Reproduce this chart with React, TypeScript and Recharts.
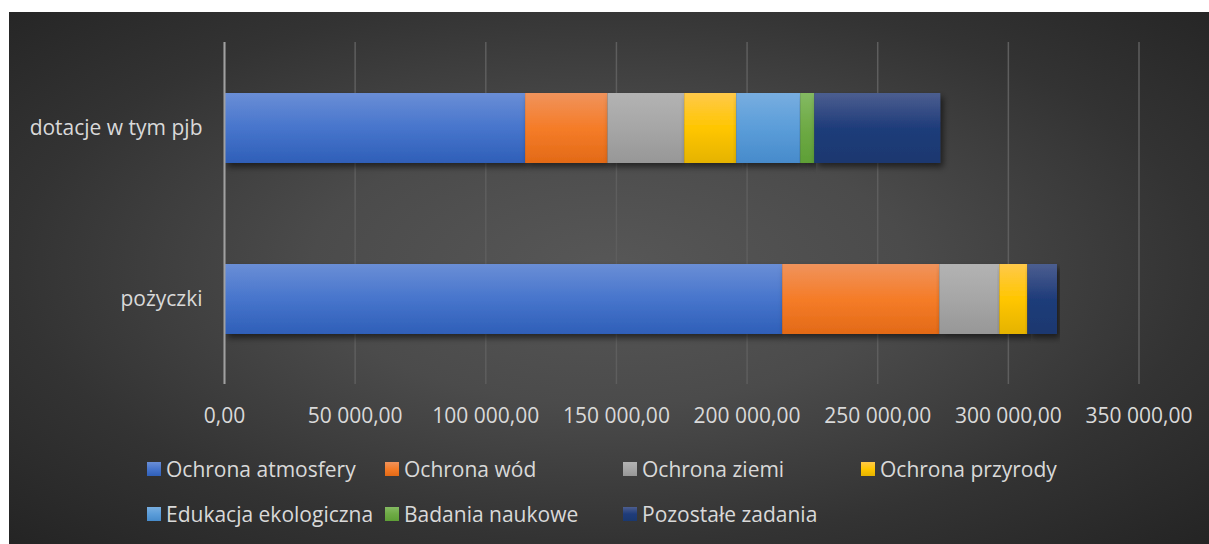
import { Bar, BarChart, CartesianGrid, XAxis, YAxis } from "recharts";

const categories = ["dotacje w tym pjb", "pożyczki"];

const seriesNames = [
	"Ochrona atmosfery",
	"Ochrona wód",
	"Ochrona ziemi",
	"Ochrona przyrody",
	"Edukacja ekologiczna",
	"Badania naukowe",
	"Pozostałe zadania",
];

// values per category, same order as `categories`
const ochronaAtmosfery = [115050, 213440];
const ochronaWod = [31510, 60110];
const ochronaZiemi = [29370, 22970];
const ochronaPrzyrody = [19910, 10720];
const edukacjaEkologiczna = [24500, 0];
const badaniaNaukowe = [5360, 0];
const pozostaleZadania = [48240, 11370];

const xTicks = [0, 50000, 100000, 150000, 200000, 250000, 300000, 350000];

const seriesValues = [
	ochronaAtmosfery,
	ochronaWod,
	ochronaZiemi,
	ochronaPrzyrody,
	edukacjaEkologiczna,
	badaniaNaukowe,
	pozostaleZadania,
];

// [top, middle, bottom] shades for each series
const shades = [
	["#6a8ed6", "#4775cc", "#2f5fb8"],
	["#f0935c", "#f57c28", "#e36a17"],
	["#b3b3b3", "#a6a6a6", "#979797"],
	["#ffc94a", "#ffc600", "#e5b300"],
	["#78aee0", "#5b9dd9", "#478bcb"],
	["#84ba62", "#6eaa45", "#5e9f36"],
	["#4c5e90", "#1f3c7a", "#1a386f"],
];

const data = categories.map((name, i) => {
	const row: Record<string, string | number> = { name };
	seriesNames.forEach((s, j) => {
		row[s] = seriesValues[j][i];
	});
	return row;
});

const textColor = "#d9d9d9";
const font = "'Open Sans', sans-serif";

function formatPl(v: number) {
	return Math.round(v).toString().replace(/\B(?=(\d{3})+(?!\d))/g, " ") + ",00";
}

function CategoryTick({ x, y, payload }: any) {
	return (
		<text x={x} y={y} dy={7} textAnchor="end" fill={textColor} fontFamily={font} fontSize={21}>
			{payload.value}
		</text>
	);
}

function ValueTick({ x, y, payload }: any) {
	return (
		<text x={x} y={y + 39} textAnchor="middle" fill={textColor} fontFamily={font} fontSize={21}>
			{formatPl(payload.value)}
		</text>
	);
}

const legendCols = [147, 385, 623, 861];
const legendRows = [462, 507];

export default function App() {
	return (
		<div style={{ position: "absolute", left: 0, top: 0, width: 1209, height: 544, background: "#fff" }}>
			<div
				style={{
					position: "absolute",
					left: 9,
					top: 12,
					width: 1200,
					height: 532,
					background:
						"radial-gradient(ellipse farthest-corner at 50% 48%, #575757 0%, #4b4b4b 35%, #333333 70%, #242424 100%)",
				}}
			/>
			<div style={{ position: "absolute", left: 0, top: 0 }}>
				<BarChart
					width={1209}
					height={544}
					data={data}
					layout="vertical"
					barSize={70}
					margin={{ top: 42, right: 70, bottom: 100, left: 0 }}
				>
					<defs>
						{shades.map((c, i) => (
							<linearGradient key={i} id={`grad${i}`} x1="0" y1="0" x2="0" y2="1">
								<stop offset="0%" stopColor={c[0]} />
								<stop offset="50%" stopColor={c[1]} />
								<stop offset="100%" stopColor={c[2]} />
							</linearGradient>
						))}
						<filter id="barShadow" x="-5%" y="-20%" width="115%" height="160%">
							<feDropShadow dx="3" dy="4" stdDeviation="3" floodColor="#000" floodOpacity="0.55" />
						</filter>
					</defs>
					<CartesianGrid horizontal={false} stroke="#5e5e5e" strokeWidth={1.5} />
					<XAxis
						type="number"
						domain={[0, 350000]}
						ticks={xTicks}
						axisLine={false}
						tickLine={false}
						tickSize={0}
						tickMargin={0}
						height={60}
						interval={0}
						tick={<ValueTick />}
					/>
					<YAxis
						type="category"
						dataKey="name"
						width={224.5}
						axisLine={{ stroke: "#a0a0a0", strokeWidth: 2 }}
						tickLine={false}
						tickSize={0}
						tickMargin={22}
						tick={<CategoryTick />}
					/>
					{seriesNames.map((s, i) => (
						<Bar
							key={s}
							dataKey={s}
							stackId="a"
							fill={`url(#grad${i})`}
							filter="url(#barShadow)"
							isAnimationActive={false}
						/>
					))}
				</BarChart>
			</div>
			{seriesNames.map((s, i) => {
				const col = i < 4 ? i : i - 4;
				const row = i < 4 ? 0 : 1;
				return (
					<div
						key={s}
						style={{
							position: "absolute",
							left: legendCols[col],
							top: legendRows[row] - 11,
							display: "flex",
							alignItems: "center",
							fontFamily: font,
							fontSize: 21,
							color: textColor,
							whiteSpace: "nowrap",
							lineHeight: "36px",
						}}
					>
						<span
							style={{
								display: "inline-block",
								width: 14,
								height: 14,
								marginRight: 5,
								background: `linear-gradient(${shades[i][0]}, ${shades[i][1]}, ${shades[i][2]})`,
							}}
						/>
						{s}
					</div>
				);
			})}
		</div>
	);
}
